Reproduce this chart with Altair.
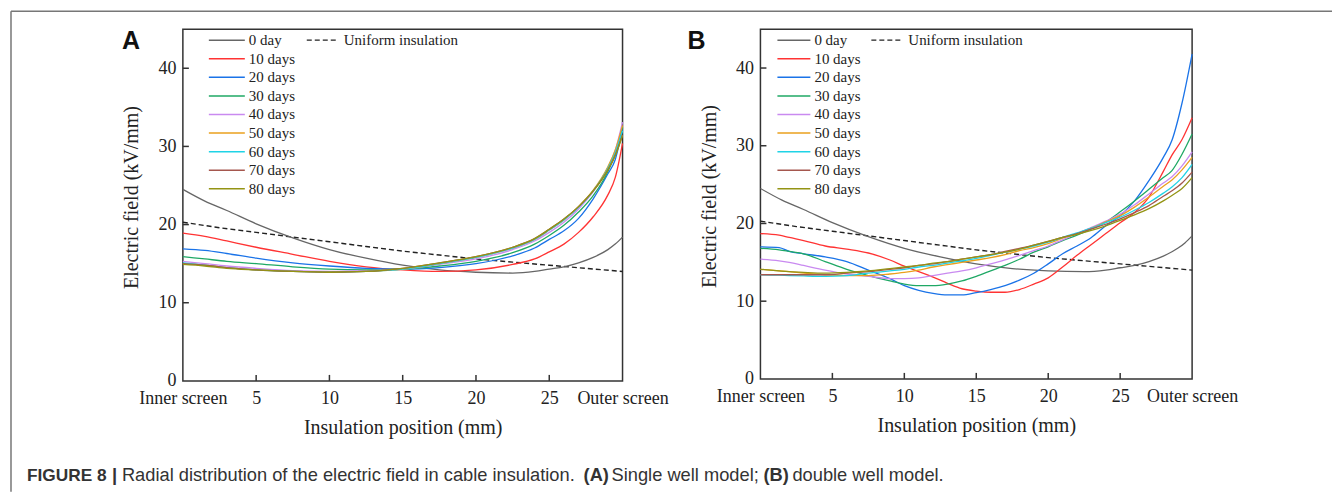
import altair as alt
import pandas as pd

SERIF = "Liberation Serif, Times New Roman, serif"
SANS = "Liberation Sans, Arial, sans-serif"

series_names = ["0 day", "10 days", "20 days", "30 days", "40 days",
                "50 days", "60 days", "70 days", "80 days"]
series_colors = ["#666666", "#ff3333", "#1a73e8", "#1fa865", "#c98af0",
                 "#eaa01e", "#1fd3e6", "#a5574e", "#949414"]
uniform_label = "Uniform insulation"

# shared curves (same in both panels)
x_zero = [0, 1.5, 3, 5, 7.5, 10, 12.5, 15, 17.5, 20, 22.5, 24, 25, 26, 27, 28, 29, 29.5, 30]
y_zero = [24.5, 23.0, 21.8, 20.1, 18.3, 16.8, 15.7, 14.8, 14.2, 13.9, 13.8, 14.0, 14.3, 14.6, 15.1, 15.8, 16.8, 17.5, 18.4]
x_uniform = [0, 2.5, 5, 7.5, 10, 12.5, 15, 17.5, 20, 22.5, 25, 27.5, 30]
y_uniform = [20.3, 19.6, 19.0, 18.4, 17.8, 17.2, 16.6, 16.1, 15.6, 15.2, 14.8, 14.4, 14.0]

# Panel A: single well model
xA = [0, 1.5, 3, 5, 7.5, 10, 12.5, 15, 17.5, 20, 22.5, 24, 25, 26, 27, 28, 29, 29.5, 30]
A_10 = [18.9, 18.5, 17.9, 17.1, 16.2, 15.3, 14.6, 14.2, 14.0, 14.2, 14.9, 15.6, 16.5, 17.5, 19.0, 21.0, 23.8, 26.0, 30.4]
A_20 = [16.9, 16.7, 16.3, 15.7, 15.1, 14.7, 14.4, 14.3, 14.5, 15.0, 16.0, 17.0, 18.1, 19.2, 20.8, 23.3, 26.5, 28.3, 32.3]
A_30 = [15.9, 15.6, 15.3, 15.0, 14.6, 14.3, 14.2, 14.3, 14.7, 15.3, 16.4, 17.5, 18.6, 19.9, 21.6, 23.7, 26.8, 29.0, 32.5]
A_40 = [15.3, 15.0, 14.7, 14.4, 14.1, 14.0, 14.1, 14.3, 14.9, 15.6, 16.8, 17.9, 19.0, 20.3, 22.0, 24.2, 27.3, 29.5, 33.1]
A_50 = [15.0, 14.8, 14.5, 14.2, 14.0, 13.9, 14.0, 14.3, 15.0, 15.8, 17.0, 18.1, 19.3, 20.6, 22.3, 24.4, 27.4, 29.5, 32.7]
A_60 = [15.1, 14.8, 14.5, 14.2, 14.0, 13.9, 14.0, 14.3, 15.0, 15.8, 17.0, 18.1, 19.3, 20.6, 22.2, 24.3, 27.2, 29.2, 32.0]
A_70 = [15.0, 14.8, 14.5, 14.2, 14.0, 13.9, 14.0, 14.4, 15.1, 15.9, 17.1, 18.2, 19.4, 20.7, 22.3, 24.3, 27.0, 28.9, 31.5]
A_80 = [14.9, 14.7, 14.4, 14.2, 14.0, 13.9, 14.0, 14.4, 15.1, 15.9, 17.1, 18.2, 19.4, 20.7, 22.3, 24.3, 27.0, 28.8, 31.4]

# Panel B: double well model
xB = [0, 1.3, 2, 3, 4.5, 6, 7.5, 9, 10, 11, 12, 13, 14, 15, 16, 17, 18, 19, 20,
      21, 22, 23, 24, 25, 26, 27, 28, 28.6, 29.3, 30]
B_10 = [18.7, 18.5, 18.2, 17.8, 17.1, 16.7, 16.2, 15.3, 14.5, 13.8, 13.1, 12.3, 11.6, 11.3, 11.15, 11.15, 11.5, 12.2, 13.0,
        14.4, 15.9, 17.3, 18.7, 20.1, 21.4, 23.4, 26.7, 28.8, 30.8, 33.6]
B_20 = [17.0, 16.9, 16.4, 16.1, 15.7, 15.1, 14.0, 12.9, 12.0, 11.4, 11.0, 10.8, 10.8, 11.1, 11.5, 12.0, 12.7, 13.6, 14.8,
        16.1, 17.1, 18.2, 19.7, 21.0, 22.9, 25.5, 28.5, 30.7, 35.5, 41.8]
B_30 = [16.8, 16.6, 16.4, 16.1, 15.1, 14.1, 13.3, 12.6, 12.2, 12.0, 12.0, 12.2, 12.6, 13.2, 13.9, 14.6, 15.4, 16.3, 17.0,
        17.8, 18.5, 19.3, 20.2, 21.5, 22.9, 24.4, 25.9, 26.8, 28.9, 31.5]
B_40 = [15.4, 15.2, 15.0, 14.6, 14.0, 13.5, 13.2, 12.9, 12.9, 13.0, 13.3, 13.6, 13.9, 14.3, 14.8, 15.3, 15.9, 16.5, 17.1,
        17.9, 18.7, 19.5, 20.3, 21.2, 22.4, 23.8, 25.2, 26.0, 27.4, 29.2]
B_50 = [14.1, 13.9, 13.8, 13.6, 13.4, 13.3, 13.3, 13.5, 13.7, 14.0, 14.4, 14.7, 15.0, 15.3, 15.6, 16.0, 16.5, 16.9, 17.4,
        18.1, 18.7, 19.4, 20.2, 21.0, 22.1, 23.4, 24.8, 25.6, 26.9, 28.5]
B_60 = [13.4, 13.35, 13.3, 13.25, 13.2, 13.3, 13.6, 13.9, 14.1, 14.4, 14.6, 14.9, 15.2, 15.5, 15.9, 16.3, 16.7, 17.1, 17.6,
        18.2, 18.8, 19.4, 20.1, 20.8, 21.7, 22.7, 23.9, 24.7, 25.9, 27.6]
B_70 = [13.4, 13.4, 13.4, 13.4, 13.4, 13.6, 13.8, 14.1, 14.3, 14.6, 14.8, 15.1, 15.4, 15.7, 16.0, 16.4, 16.8, 17.2, 17.7,
        18.2, 18.7, 19.3, 19.9, 20.6, 21.4, 22.3, 23.5, 24.2, 25.2, 26.6]
B_80 = [14.1, 13.9, 13.8, 13.7, 13.6, 13.7, 13.9, 14.2, 14.4, 14.6, 14.9, 15.1, 15.4, 15.7, 16.0, 16.3, 16.7, 17.2, 17.7,
        18.2, 18.6, 19.1, 19.7, 20.4, 21.1, 21.9, 22.9, 23.6, 24.5, 25.9]

# axes
x_tick_values = [0, 5, 10, 15, 20, 25, 30]
x_tick_labels = ["Inner screen", "5", "10", "15", "20", "25", "Outer screen"]
y_tick_values = [0, 10, 20, 30, 40]
inner_x_ticks = [5, 10, 15, 20, 25]
inner_y_ticks = [10, 20, 30, 40]
x_title = "Insulation position (mm)"
y_title = "Electric field (kV/mm)"

caption_texts = ["FIGURE 8", "|", "Radial distribution of the electric field in cable insulation.",
                 "(A)", "Single well model;", "(B)", "double well model."]
caption_bold = [True, True, False, True, False, True, False]
caption_size = [17.3, 18.3, 18.3, 18.3, 18.3, 18.3, 18.3]
caption_x = [-156, -71, -61, 401, 429, 581, 610]

label_expr = "datum.label"
for v, l in reversed(list(zip(x_tick_values, x_tick_labels))):
    label_expr = f"datum.value == {v} ? '{l}' : ({label_expr})"

# single-digit legend entry sits indented as in the original
legend_label_expr = "datum.label == '0 day' ? '\u00a0\u00a00 day' : datum.label"


def long_frame(x_main, curves):
    rows = []
    for xv, yv in zip(x_zero, y_zero):
        rows.append({"x": xv, "y": yv, "series": series_names[0]})
    for name, ys in zip(series_names[1:], curves):
        for xv, yv in zip(x_main, ys):
            rows.append({"x": xv, "y": yv, "series": name})
    return pd.DataFrame(rows)


def panel(df, letter, W, H, leg, extra=None):
    xenc = alt.X("x:Q", title=x_title,
                 scale=alt.Scale(domain=[0, 30], nice=False, zero=False),
                 axis=alt.Axis(values=x_tick_values, labelExpr=label_expr, ticks=False, tickSize=0,
                               domain=False, grid=False, labelFont=SERIF, labelFontSize=18,
                               labelColor="#222", labelPadding=9, labelFlush=False, labelOverlap=False,
                               titleFont=SERIF, titleFontSize=20, titleFontWeight="normal",
                               titleColor="#222", titleY=47, titleBaseline="middle"))
    yenc = alt.Y("y:Q", title=y_title,
                 scale=alt.Scale(domain=[0, 45], nice=False, zero=False),
                 axis=alt.Axis(values=y_tick_values, ticks=False, tickSize=0, domain=False, grid=False,
                               labelFont=SERIF, labelFontSize=18, labelColor="#222", labelPadding=7,
                               labelFlush=False, labelOverlap=False,
                               titleFont=SERIF, titleFontSize=20, titleFontWeight="normal",
                               titleColor="#222", titleX=-51, titleY=H / 2 - 8, titleBaseline="middle"))
    lines = alt.Chart(df).mark_line(strokeWidth=1.3, interpolate="monotone").encode(
        x=xenc, y=yenc,
        color=alt.Color("series:N", sort=series_names,
                        scale=alt.Scale(domain=series_names, range=series_colors),
                        legend=alt.Legend(title=None, orient="none", legendX=leg["cx"], legendY=3,
                                          direction="vertical", symbolType="stroke",
                                          symbolSize=leg["cs"] ** 2, symbolStrokeWidth=1.5,
                                          clipHeight=16, rowPadding=2.6, padding=0, symbolOffset=0,
                                          labelFont=SERIF, labelFontSize=15, labelColor="#222",
                                          labelOffset=3, labelExpr=legend_label_expr)))
    udf = pd.DataFrame({"x": x_uniform, "y": y_uniform, "kind": [uniform_label] * len(x_uniform)})
    uni = alt.Chart(udf).mark_line(color="#222", strokeWidth=1.4).encode(
        x="x:Q", y="y:Q",
        strokeDash=alt.StrokeDash("kind:N", scale=alt.Scale(domain=[uniform_label], range=[[5, 3]]),
                                  legend=alt.Legend(title=None, orient="none", legendX=leg["ux"], legendY=3,
                                                    symbolType="stroke", symbolSize=leg["us"] ** 2,
                                                    symbolStrokeWidth=1.4, symbolStrokeColor="#222",
                                                    clipHeight=16, padding=0, symbolOffset=0,
                                                    labelFont=SERIF, labelFontSize=15, labelColor="#222",
                                                    labelOffset=6)))
    xt = alt.Chart(pd.DataFrame({"x": inner_x_ticks})).mark_rule(color="#333", strokeWidth=1.5).encode(
        x="x:Q", y=alt.value(H), y2=alt.value(H - 6))
    yt = alt.Chart(pd.DataFrame({"y": inner_y_ticks})).mark_rule(color="#333", strokeWidth=1.5).encode(
        y="y:Q", x=alt.value(0), x2=alt.value(6))
    lab = alt.Chart(pd.DataFrame({"a": [0]})).mark_text(
        text=letter, font=SANS, fontWeight="bold", fontSize=25, color="#111",
        align="center", baseline="middle").encode(x=alt.value(leg["lx"]), y=alt.value(12))
    layers = [uni, lines, xt, yt, lab]
    if extra:
        layers += extra
    return alt.layer(*layers).properties(width=W, height=H)


one = pd.DataFrame({"a": [0]})
frame = [
    alt.Chart(one).mark_rule(color="#777", strokeWidth=1.5).encode(
        x=alt.value(-172), x2=alt.value(1150), y=alt.value(-18)),
    alt.Chart(one).mark_rule(color="#777", strokeWidth=1.5).encode(
        x=alt.value(-172), y=alt.value(-18), y2=alt.value(463)),
]
caption = [
    alt.Chart(one).mark_text(text=t, font=SANS, fontSize=s, fontWeight="bold" if b else "normal",
                             color="#333", align="left", baseline="middle").encode(
        x=alt.value(px), y=alt.value(447))
    for t, b, s, px in zip(caption_texts, caption_bold, caption_size, caption_x)
]

dfA = long_frame(xA, [A_10, A_20, A_30, A_40, A_50, A_60, A_70, A_80])
dfB = long_frame(xB, [B_10, B_20, B_30, B_40, B_50, B_60, B_70, B_80])

pA = panel(dfA, "A", 440, 352, {"cx": 25, "cs": 36, "ux": 123, "us": 30, "lx": -52}, frame + caption)
pB = panel(dfB, "B", 432, 350, {"cx": 16, "cs": 33, "ux": 110, "us": 30, "lx": -64})

chart = alt.hconcat(pA, pB, spacing=138, bounds="flush").resolve_scale(
    color="independent", strokeDash="independent", x="independent", y="independent"
).resolve_legend(color="independent", strokeDash="independent").configure_view(
    stroke="#333", strokeWidth=1.5
).properties(padding={"left": 1, "top": 1, "right": 0, "bottom": 0}, background="white")

chart.save("out.html", embed_options={"renderer": "svg", "actions": False})
